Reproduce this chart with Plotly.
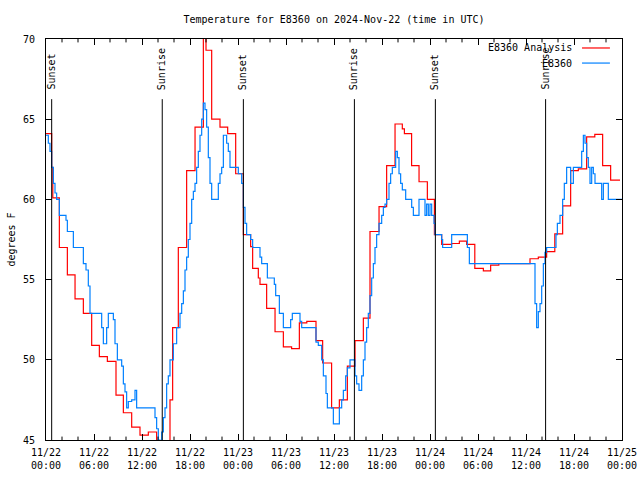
import pandas as pd
import plotly.graph_objects as go

START = pd.Timestamp("2024-11-22 00:00")

# Analysis series (hours after start, degrees F)
red_hours = [0.0, 0.71, 0.85, 1.67, 2.67, 3.63, 4.67, 5.71, 6.67, 7.67, 8.75, 9.67, 10.71,
             11.75, 12.79, 13.83, 15.5, 15.83, 16.54, 17.58, 18.63, 19.67, 20.0, 20.71,
             21.75, 22.71, 23.71, 24.67, 25.58, 25.83, 26.54, 26.75, 27.58, 28.63, 29.67,
             30.7, 31.67, 32.6, 33.75, 34.58, 35.7, 36.67, 37.67, 38.63, 39.67, 40.5,
             41.63, 42.58, 43.63, 44.54, 44.8, 45.7, 46.63, 47.67, 48.55, 49.46, 50.7,
             51.67, 52.58, 53.6, 54.67, 55.58, 56.6, 60.5, 61.54, 62.58, 63.6, 64.58,
             65.58, 66.54, 67.58, 68.6, 69.58, 70.58, 71.75]
red_temps = [64.1, 62.0, 60.1, 57.0, 55.3, 53.8, 52.9, 50.9, 50.2, 49.9, 47.8, 46.7, 45.8,
             45.3, 45.5, 44.0, 47.5, 52.0, 57.0, 61.8, 64.5, 71.0, 69.3, 65.0,
             64.5, 64.1, 61.6, 57.8, 57.05, 55.7, 55.1, 54.7, 53.2, 51.75, 50.8,
             50.7, 52.3, 52.4, 51.2, 49.8, 47.0, 47.5, 49.6, 51.2, 52.6, 58.0,
             59.55, 62.1, 64.7, 64.4, 64.1, 62.1, 61.1, 60.0, 57.8, 57.2, 57.25,
             57.4, 57.2, 55.7, 55.55, 55.9, 56.0, 56.3, 56.4, 56.75, 57.85, 59.6,
             61.8, 61.9, 63.9, 64.05, 62.1, 61.2, 61.2]

# Observed series (hours after start, degrees F)
blue_hours = [0.0, 0.29, 0.5, 0.71, 0.92, 1.125, 1.33, 1.67, 2.5, 2.67, 3.42, 4.67, 5.0,
              5.29, 5.5, 6.96, 7.17, 7.58, 7.79, 8.42, 8.625, 8.92, 9.46, 9.67, 9.875,
              10.08, 10.29, 10.71, 11.125, 11.33, 13.625, 13.83, 14.04, 14.25, 14.46,
              14.67, 14.875, 15.08, 15.29, 15.5, 15.92, 16.33, 16.75, 16.96, 17.17,
              17.375, 17.58, 17.79, 18.0, 18.21, 18.42, 18.625, 18.83, 19.04, 19.25,
              19.46, 19.67, 19.875, 20.08, 20.29, 20.5, 20.71, 21.54, 21.75, 21.96,
              22.17, 22.58, 22.79, 23.0, 24.04, 24.46, 24.67, 24.875, 25.08, 25.58,
              25.83, 26.75, 26.96, 27.67, 28.54, 28.71, 29.17, 29.67, 30.58, 30.79,
              31.75, 31.96, 33.75, 34.04, 34.46, 34.67, 35.0, 35.17, 35.92, 36.67,
              36.96, 37.17, 37.46, 37.67, 38.0, 38.625, 38.83, 39.125, 39.46, 39.67,
              39.875, 40.08, 40.29, 40.5, 40.71, 40.92, 41.125, 41.33, 41.625, 41.96,
              42.17, 42.375, 42.58, 42.875, 43.08, 43.29, 43.71, 43.92, 44.125, 44.33,
              44.54, 44.96, 45.71, 45.92, 46.625, 47.375, 47.58, 47.79, 48.0, 48.21,
              48.5, 48.625, 49.46, 49.58, 50.71, 52.67, 52.92, 61.125, 61.33, 61.54,
              61.75, 61.96, 62.17, 62.375, 62.58, 63.75, 63.92, 64.25, 64.58, 64.79,
              65.08, 65.58, 65.92, 66.96, 67.17, 67.375, 67.58, 67.79, 68.0, 68.21,
              68.42, 68.625, 69.46, 69.67, 70.29, 72.0]
blue_temps = [64.0, 63.5, 63.0, 62.0, 61.0, 60.4, 60.0, 59.0, 58.7, 58.0, 57.0, 56.0, 55.6,
              54.6, 52.9, 52.0, 51.0, 52.0, 52.9, 52.5, 51.0, 50.0, 49.6, 48.5, 48.0,
              47.0, 47.4, 47.5, 48.1, 47.0, 46.4, 45.7, 45.0, 44.0, 45.5,
              46.4, 47.0, 48.5, 49.0, 50.0, 51.0, 52.0, 52.9, 53.5, 54.3,
              55.6, 56.4, 57.5, 58.5, 60.0, 60.5, 61.0, 62.0, 63.0, 64.0,
              65.0, 66.0, 65.6, 64.5, 62.6, 61.0, 60.0, 61.0, 61.6, 62.0,
              64.0, 63.5, 63.0, 62.0, 61.6, 61.0, 59.5, 58.5, 57.8, 57.5,
              57.0, 56.4, 56.0, 55.1, 54.7, 54.0, 52.9, 52.0, 52.5, 52.9,
              52.4, 52.0, 51.1, 50.9, 50.0, 49.0, 47.9, 47.0, 46.0, 47.0,
              47.5, 48.1, 49.0, 49.5, 50.0, 49.0, 48.5, 48.1, 49.0, 50.0,
              51.1, 52.0, 52.9, 54.0, 55.1, 56.0, 57.0, 57.8, 58.5, 59.0,
              59.5, 59.7, 60.0, 61.0, 61.6, 62.0, 63.0, 62.6, 61.6, 61.0,
              60.6, 60.0, 59.5, 59.0, 60.0, 59.0, 59.7, 59.0, 59.7, 59.0,
              58.5, 57.8, 57.5, 57.0, 57.8, 57.0, 56.0, 53.5, 52.0, 53.0,
              53.5, 54.6, 56.0, 56.7, 57.0, 57.8, 58.5, 59.0, 60.0, 61.0,
              62.0, 61.0, 62.0, 63.0, 64.0, 63.5, 62.6, 62.0, 61.0, 62.0,
              61.6, 61.0, 60.0, 61.0, 60.0, 60.0]

sunset_hours = [0.71, 24.67, 48.67]
sunrise_hours = [14.53, 38.55, 62.45]

tick_hours = [0, 6, 12, 18, 24, 30, 36, 42, 48, 54, 60, 66, 72]
minor_tick_hours = [h for h in range(2, 72, 2) if h % 6 != 0]

FONT = "DejaVu Sans Mono"
W, H = 640, 480


def to_time(hours):
    return [START + pd.Timedelta(hours=h) for h in hours]


fig = go.Figure()
fig.add_trace(go.Scatter(x=to_time(red_hours), y=red_temps, mode="lines", line_shape="hv",
                         line=dict(color="#ff0000", width=1.2), name="E8360 Analysis",
                         showlegend=False))
fig.add_trace(go.Scatter(x=to_time(blue_hours), y=blue_temps, mode="lines", line_shape="hv",
                         line=dict(color="#0080ff", width=1.2), name="E8360",
                         showlegend=False))

for label, hours in (("Sunset", sunset_hours), ("Sunrise", sunrise_hours)):
    for t in to_time(hours):
        fig.add_shape(type="line", xref="x", yref="paper", x0=t, x1=t, y0=0, y1=0.85,
                      line=dict(color="black", width=1))
        fig.add_annotation(x=t, xref="x", y=0.868, yref="paper", text=label, textangle=-90,
                           showarrow=False, xanchor="center", yanchor="bottom",
                           font=dict(family=FONT, size=10, color="black"))

# minor ticks every 2 hours, bottom and top, drawn inward
for t in to_time(minor_tick_hours):
    fig.add_shape(type="line", xref="x", yref="paper", x0=t, x1=t, y0=0, y1=0.0085,
                  line=dict(color="black", width=1))
    fig.add_shape(type="line", xref="x", yref="paper", x0=t, x1=t, y0=0.9915, y1=1,
                  line=dict(color="black", width=1))

# manual legend (text right-aligned, sample line on the right)
for name, color, yp in (("E8360 Analysis", "#ff0000", 0.9776), ("E8360", "#0080ff", 0.940)):
    fig.add_annotation(x=0.9167, xref="paper", y=yp, yref="paper", text=name,
                       showarrow=False, xanchor="right", yanchor="middle",
                       font=dict(family=FONT, size=10, color="black"))
    fig.add_shape(type="line", xref="paper", yref="paper", x0=0.9306, x1=0.979,
                  y0=yp, y1=yp, line=dict(color=color, width=1.2))

tickvals = to_time(tick_hours)
ticktext = [t.strftime("%m/%d") + "<br>" + t.strftime("%H:%M") for t in tickvals]

fig.update_layout(
    width=W, height=H,
    margin=dict(l=46, r=18, t=39, b=40, autoexpand=False),
    paper_bgcolor="white", plot_bgcolor="white",
    font=dict(family=FONT, size=10, color="black"),
    title=dict(text="Temperature for E8360 on 2024-Nov-22 (time in UTC)",
               x=334 / W, xanchor="center", y=1 - 19 / H, yanchor="middle",
               automargin=False,
               font=dict(family=FONT, size=10, color="black")),
    xaxis=dict(range=[START, START + pd.Timedelta(hours=72)],
               tickvals=tickvals, ticktext=ticktext, automargin=False,
               ticks="inside", ticklen=6, tickcolor="black", tickwidth=1,
               showline=True, linecolor="black", linewidth=1, mirror="ticks",
               showgrid=False, zeroline=False, ticklabelstandoff=3,
               tickfont=dict(family=FONT, size=10, color="black")),
    yaxis=dict(range=[45, 70], dtick=5, tick0=45, automargin=False,
               ticks="inside", ticklen=6, tickcolor="black", tickwidth=1,
               showline=True, linecolor="black", linewidth=1, mirror="ticks",
               showgrid=False, zeroline=False, ticklabelstandoff=8,
               title=dict(text="degrees F", standoff=5,
                          font=dict(family=FONT, size=10, color="black")),
               tickfont=dict(family=FONT, size=10, color="black")),
)

fig.write_html("out.html",
               config={"displayModeBar": False},
               post_script="document.body.style.margin='0';"
                           "document.documentElement.style.overflow='hidden';")
